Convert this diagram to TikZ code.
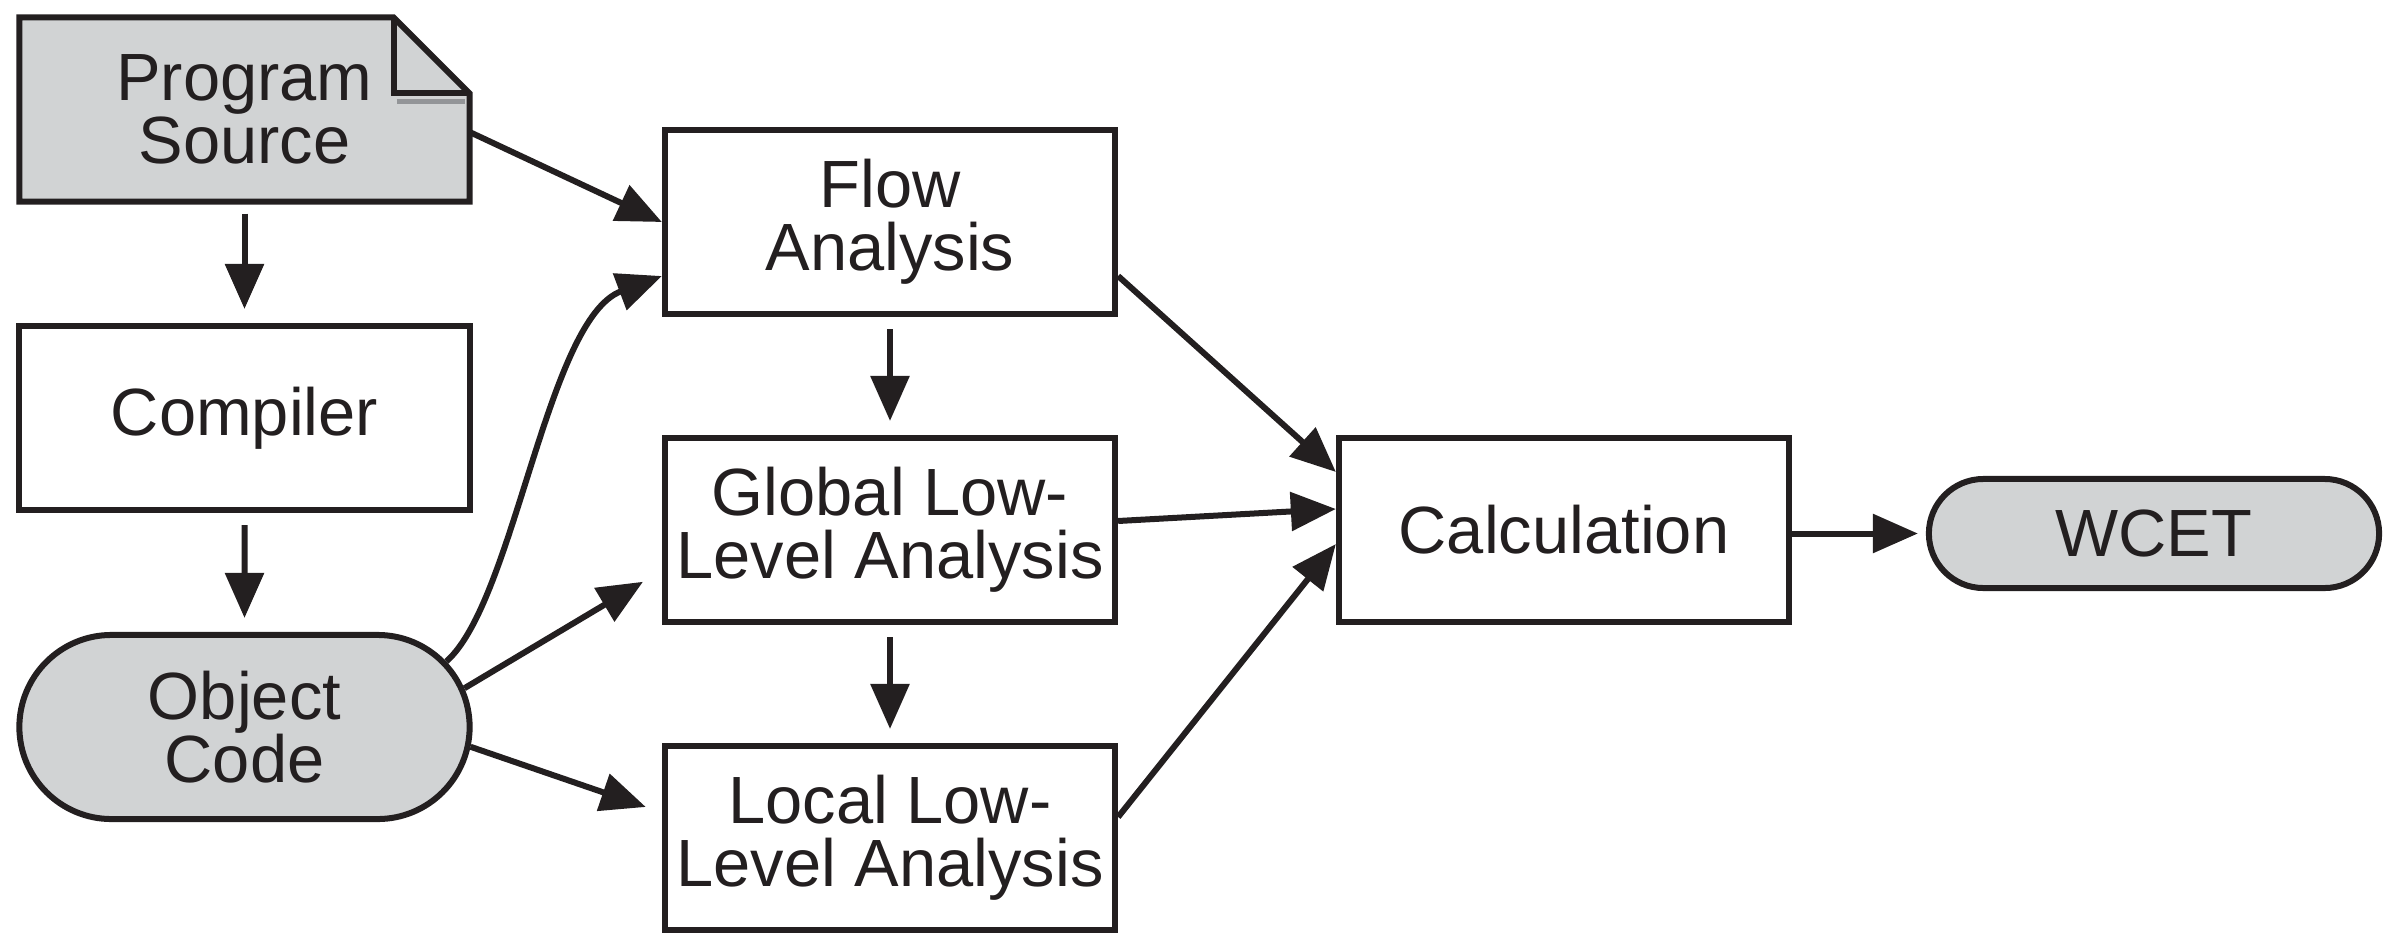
\documentclass[tikz,border=0pt]{standalone}
\usepackage{fontspec}
\setmainfont{Liberation Sans}
\usepackage{xcolor}
\usepackage{tikz}
\usetikzlibrary{arrows.meta,positioning,calc,shapes.misc,backgrounds}

\definecolor{inkblack}{HTML}{231F20}
\definecolor{boxgray}{HTML}{D1D3D4}
\definecolor{foldgray}{HTML}{939598}

\begin{document}
\begin{tikzpicture}[x=0.01cm,y=0.01cm,
		every node/.style={font=\fontsize{19}{18}\selectfont, align=center, text=inkblack},
		box/.style={draw=inkblack, line width=0.06cm, fill=white, minimum width=4.5cm, minimum height=1.84cm, inner sep=0pt},
		doc/.style={box, draw=none, fill=none, outer sep=0pt},
		pill/.style={box, rounded rectangle, fill=boxgray},
		arr/.style={draw=inkblack, line width=0.06cm, -{Triangle[length=0.45cm,width=0.38cm]}},
		down/.style={arr, shorten <=0.12cm, shorten >=0.14cm}]
		\useasboundingbox (0,0) rectangle (2402,935);
		% left column
		\node[doc] (src) at (244.5,825.5) {Program\\Source};
		\begin{scope}[on background layer]
			\draw[draw=inkblack, fill=boxgray, line width=0.06cm, line join=miter]
				(src.south west) -- (src.north west) -- ([xshift=-0.76cm]src.north east)
				-- ([yshift=-0.76cm]src.north east) -- (src.south east) -- cycle;
		\end{scope}
		\draw[foldgray, line width=0.05cm] ([xshift=-0.73cm,yshift=-0.84cm]src.north east) -- ([xshift=-0.05cm,yshift=-0.84cm]src.north east);
		\draw[inkblack, line width=0.06cm] ([xshift=-0.76cm]src.north east) |- ([yshift=-0.76cm]src.north east);
		\node[box] (comp) at (244.5,517) {Compiler};
		\node[pill] (obj) at (244.5,208) {Object\\Code};
		% analyses
		\node[box] (flow) at (890,713) {Flow\\Analysis};
		\node[box] (glob) at (890,405) {Global Low-\\Level Analysis};
		\node[box] (loc) at (890,97) {Local Low-\\Level Analysis};
		\node[box] (calc) at (1564,405) {Calculation};
		\node[pill, minimum height=1.09cm] (wcet) at (2154,401.5) {WCET};
		% connectors
		\draw[down] (src) -- (comp);
		\draw[down] (comp) -- (obj);
		\draw[down] (flow) -- (glob);
		\draw[down] (glob) -- (loc);
		\draw[arr] ([yshift=-0.225cm]src.east) -- (flow.west);
		\draw[arr] (obj.18) .. controls +(68,60) and +(-115,-43) .. ([yshift=-0.54cm]flow.west);
		\draw[arr, shorten >=0.22cm] (obj.10) -- ([yshift=-0.405cm]glob.west);
		\draw[arr, shorten >=0.17cm] (obj.-5) -- ([yshift=0.255cm]loc.west);
		\draw[arr] ([yshift=-0.54cm]flow.east) -- ([yshift=0.58cm]calc.west);
		\draw[arr] ([yshift=0.09cm]glob.east) -- ([yshift=0.21cm]calc.west);
		\draw[arr] ([yshift=0.21cm]loc.east) -- ([yshift=-0.14cm]calc.west);
		\draw[arr, shorten >=0.08cm] (calc.east |- wcet.west) -- (wcet.west);
	\end{tikzpicture}
\end{document}
